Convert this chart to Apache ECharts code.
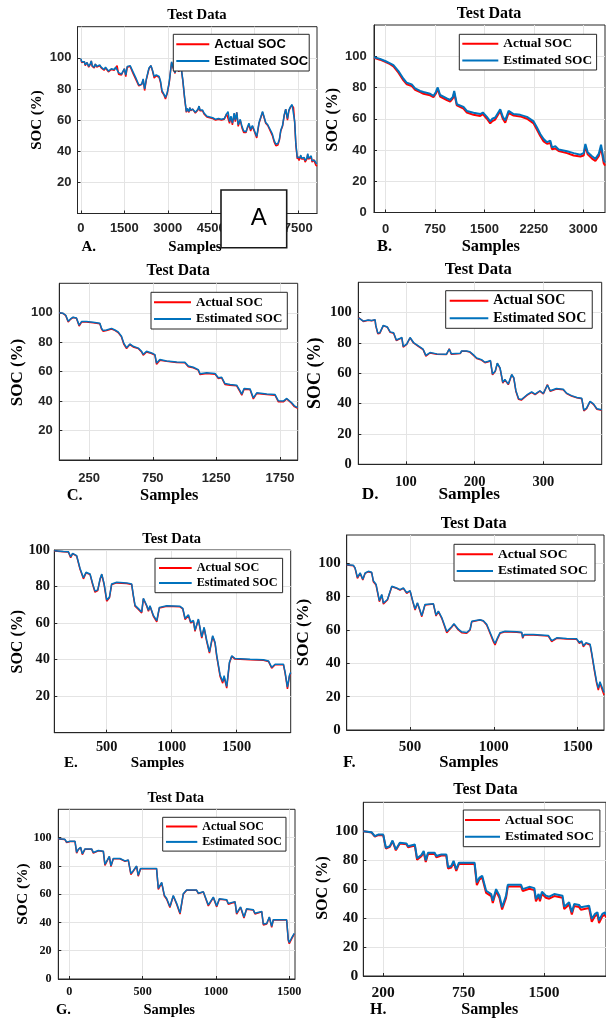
<!DOCTYPE html>
<html><head><meta charset="utf-8">
<script src="https://cdn.jsdelivr.net/npm/echarts@6/dist/echarts.min.js"></script>
<style>html,body{margin:0;padding:0;background:#fff;}#c{width:606px;height:1018px;}</style>
</head><body><div id="c"></div>
<script>
// ---------------- DATA ----------------
const seriesNames = ['Actual SOC', 'Estimated SOC'];

// Panel A
const samplesA = [0,30,60,90,120,150,180,210,240,270,
300,330,360,390,420,460,500,550,600,650,
700,750,800,850,900,950,1000,1050,1100,1150,
1200,1250,1300,1400,1500,1550,1600,1700,1800,1900,
2000,2100,2150,2200,2260,2350,2420,2480,2530,2600,
2700,2750,2800,2870,2920,2980,3050,3130,3180,3250,
3300,3380,3450,3520,3580,3640,3670,3700,3730,3760,
3790,3820,3860,3900,3950,4000,4040,4080,4110,4150,
4200,4250,4300,4350,4400,4450,4550,4650,4750,4850,
4950,5030,5080,5130,5180,5230,5290,5330,5380,5430,
5500,5560,5620,5700,5750,5800,5860,5920,5980,6070,
6150,6270,6380,6450,6500,6560,6610,6670,6730,6800,
6850,6900,6960,7020,7070,7130,7180,7230,7290,7340,
7380,7420,7470,7500,7530,7560,7590,7620,7650,7680,
7710,7740,7770,7800,7830,7860,7890,7920,7950,7980,
8010,8040,8070,8110,8150];
const actualA = [99,97,96,98,97.5,95,94.5,97,96.5,94,
94.5,96,98,94.5,95,93.5,96,94,94,95,
93.5,92.5,92,93.5,92.5,91,91,92.5,91.5,92,
93.5,95,89.5,89,93,88,94,94.5,90,86,
82,83,86,79,86,93,95,91,87,88.5,
87.5,84,78,76,73.5,77,84,97,94,90,
97,91,95,85,74,65,67,66,65,68,
66,65,67,66,64.5,65,66.5,69,66,65,
66,64,63.5,62,63,61.5,61,60,60.5,60,
60.5,64,65,58,62,57,64,59,65,56,
60,55,52,52,55,57,53,56,57,48.5,
58,65,58,56.5,56,52,50,46,43.5,44,
47,53,56,63,67,60,66,68,69.5,68,
58,44,35,36.5,34,35.5,37,35,34,36,
35,33,33.5,35,38,35,34,35.5,36,33,
32,34.5,33,31,30.5];
const estimatedA = [99.5,97.5,96.5,98,97.5,95.5,95,97,96.5,94.5,
95,96.5,98,95,95.5,94,96,94.5,94.5,95.5,
94,93,92.5,94,93,91.5,91.5,93,92,92.5,
94,95,90.5,89.5,93,89,94.5,95,91,87,
82.5,83,86.5,80,86.5,93.5,95,91.5,88,89,
88,85,79,76.5,74.5,77.5,84.5,97.5,94,90.5,
97,91.5,95.5,85.5,74.5,65.5,67.5,66.5,65.5,68,
66.5,65.5,67,66.5,65,65.5,67,69,66.5,65.5,
66.5,64.5,64,62.5,63.5,62,61.5,60.5,61,60.5,
61,64,65.5,59,62.5,58,64.5,60,65,57,
60.5,56,53,52.5,55.5,58,54,56.5,57.5,49.5,
58.5,65.5,58.5,57,56.5,53,51,47,44.5,45,
47.5,53.5,56.5,63.5,67,61,66.5,68.5,70,69,
59,45,36,37,35.5,36,37.5,35.5,35,36.5,
36,34,34.5,35.5,38.5,35.5,35,36,37,34,
33.5,35,34,32.5,32];
const xTicksA = [0,1500,3000,4500,6000,7500];
const yTicksA = [20,40,60,80,100];

// Panel B
const samplesB = [-178,-86,0,66,117,193,269,320,350,395,
446,522,573,674,725,760,790,826,928,979,
1019,1040,1080,1181,1232,1333,1435,1475,1536,1587,
1620,1663,1739,1780,1815,1866,1942,2043,2145,2246,
2297,2347,2398,2449,2500,2525,2576,2626,2753,2854,
2956,3006,3032,3067,3133,3184,3235,3270,3311,3330];
const actualB = [99,97.8,96.3,95,93.5,89.5,84.5,82,81.5,81,
78.5,77,76,75,73.8,76,79,74.2,72,71,
73,76.5,68.5,66.5,64,62.5,61.8,63,60,57,
58.5,59.5,65,59.8,57.5,63.8,62,61.5,60,57,
53,49,45.5,44,44.5,40.5,41,39.3,38,36.5,
35.8,36.5,42.5,37.2,34.5,33,36,41.5,31.5,30];
const estimatedB = [99.4,98.3,96.8,95.5,94.3,90.5,85.6,83,82.5,82,
79.4,77.8,77.1,76,74.6,77,80,75.2,73,72,
74,77.8,69.3,67.6,65,63.8,63,64,61.2,58.3,
60,60.8,66,61,59,65,63,62.5,61.2,58.3,
54.4,50.2,47,45,46,41.7,42.4,40.3,39.2,38,
37,38,43.9,38.6,36,34.3,37.5,43.4,33.3,32];
const xTicksB = [0,750,1500,2250,3000];
const yTicksB = [0,20,40,60,80,100];

// Panel C
const samplesC = [14,45,66,85,103,124,150,171,190,229,
281,334,347,360,386,426,452,478,504,523,
544,570,596,636,662,675,701,741,767,780,
806,859,938,1003,1030,1069,1108,1122,1174,1240,
1266,1292,1318,1358,1410,1437,1450,1468,1515,1541,
1568,1646,1712,1738,1777,1804,1843,1864,1890];
const actualC = [100,99.5,98,93.7,95.5,96.8,96.3,91,93.7,93.7,
93.2,92.5,89,87.4,88,89,88,86.5,83.6,78.5,
75.7,78.4,76.8,75.7,73.4,71.2,73.4,72.3,71.2,65,
67.8,67,66.2,66,63.3,62.6,61,58,58.8,58.3,
55.4,55.8,51.3,50.8,50.4,46.3,44,48.1,47.9,41.5,
45.2,44.5,44,39.5,39.5,41.4,38.4,36.2,35];
const estimatedC = [100,99.6,98.3,94.2,95.8,97,96.5,91.6,94,94,
93.5,92.8,89.5,87.9,88.3,89.4,88.3,87,84,79.2,
76.3,78.8,77.2,76,73.8,71.8,73.8,72.7,71.6,65.8,
68.2,67.3,66.5,66.3,63.8,63,61.4,58.6,59.2,58.7,
55.9,56.2,51.9,51.2,50.8,46.9,44.7,48.5,48.3,42.2,
45.6,44.9,44.4,40.2,40,41.8,38.9,36.8,35.6];
const xTicksC = [250,750,1250,1750];
const yTicksC = [20,40,60,80,100];

// Panel D
const samplesD = [31,33,38,45,50,55,56,59,62,67,
73,77,82,86,91,94,96,101,106,111,
118,125,129,135,145,159,163,166,179,181,
188,193,198,203,210,215,220,223,226,230,
233,237,241,244,249,254,257,260,264,268,
276,283,288,295,300,306,310,319,329,334,
341,349,356,359,363,368,373,378,385];
const actualD = [96.8,95.7,94.2,95,94.6,95.2,91.4,86,86.4,91.4,
90.3,87,86.4,81.6,82.7,83.4,77.3,79,83.4,80,
77.8,75.6,71.3,73.4,72.6,72.4,76.2,72.6,73,74.5,
74.5,74,72,69.8,68.7,67,67.6,68.2,59,61.1,
66.5,63.3,53.6,55.7,52.5,59,56.8,48.2,42.8,42.3,
45.4,47.5,46,48.2,46.4,52.5,48.2,49.7,49.2,46.6,
45,43.8,43.2,35.2,36.7,41.3,39.5,36.3,35.6];
const estimatedD = [96.5,95.9,94.4,95.2,94.8,95.4,91.8,86.5,86.8,91.6,
90.5,87.3,86.7,82,82.9,83.7,77.8,79.3,83.6,80.3,
78.1,75.9,71.8,73.7,72.8,72.6,76,72.9,73.2,74.7,
74.7,74.2,72.3,70.1,69,67.3,67.9,68.4,59.5,61.5,
66.7,63.6,54.1,56,52.9,59.2,57.1,48.7,43.3,42.7,
45.7,47.8,46.3,48.5,46.7,52.3,48.5,50,49.5,46.9,
45.3,44.1,43.5,35.7,37,41.5,39.8,36.6,35.9];
const xTicksD = [100,200,300];
const yTicksD = [0,20,40,60,80,100];

// Panel E
const samplesE = [97,167,205,223,238,269,295,321,341,372,
392,410,431,449,462,480,500,521,538,577,
654,692,705,718,744,769,782,808,821,833,
859,885,905,962,1064,1085,1103,1128,1146,1167,
1179,1205,1231,1249,1269,1290,1315,1333,1346,1372,
1392,1403,1423,1444,1462,1487,1603,1705,1744,1769,
1795,1859,1872,1890,1905,1915];
const actualE = [99.5,99,98.9,95.8,98,96.7,89.4,84.2,87.5,86.6,
81.1,76.9,77.8,83.9,86.6,81.1,72,73.8,81.1,82,
81.7,81.1,74.7,69.2,67.4,65.6,73.3,69.2,66.5,69.2,
63.7,60.6,68.3,69.2,68.9,67.8,61.9,64.1,60.1,61,
55.5,61.9,51.8,57.3,50,43.6,52.7,49,41.8,30.8,
27.1,30.4,24.4,38.1,41.8,40.3,39.9,39.6,39,35.3,
37.2,37.2,32.6,24,30.8,32.6];
const estimatedE = [99.6,99.2,99.1,96.3,98.2,96.9,89.9,84.8,87.8,86.9,
81.6,77.5,78.2,84.2,86.8,81.6,72.7,74.2,81.4,82.3,
82,81.4,75.2,69.7,67.9,66.1,73.6,69.6,67,69.5,
64.2,61.3,68.6,69.5,69.2,68.1,62.5,64.5,60.6,61.4,
56.1,62.2,52.4,57.7,50.6,44.3,53.1,49.5,42.5,31.6,
28,31.2,25.3,38.6,42.1,40.6,40.2,39.9,39.3,35.8,
37.5,37.5,33.2,24.9,31.3,33];
const xTicksE = [500,1000,1500];
const yTicksE = [20,40,60,80,100];

// Panel F
const samplesF = [122,162,172,186,202,218,232,251,271,281,
297,317,331,341,365,391,420,440,460,480,
500,516,530,544,556,570,589,599,639,655,
669,689,703,719,748,762,788,808,838,858,
868,917,937,957,977,997,1007,1023,1037,1067,
1136,1166,1172,1180,1236,1325,1345,1359,1375,1434,
1494,1510,1524,1534,1550,1574,1583,1599,1613,1623,
1633,1643,1657];
const actualF = [99,98.6,97,91,94,90,94,95,94.4,89,
87,77,81,75.6,78,86,85,84,85,82,
83.4,77,72,76,72.4,68,75,76,75.6,68.4,
71,67,63,58.4,61.6,63.4,60,58.4,58,60,
65,66,65.4,63,58,53,51,55,58,59,
58.6,58.4,55,57,57,56.4,53,54,55,54.6,
54.4,52,53,50,52,51,46,36,28,24,
28,27,21];
const estimatedF = [99.1,98.8,97.3,91.6,94.3,90.5,94.2,95.2,94.6,89.5,
87.5,77.6,81.3,76.2,78.3,86.2,85.2,84.2,85.2,82.4,
83.6,77.5,72.6,76.3,72.9,68.6,75.3,76.2,75.8,69,
71.3,67.5,63.6,59.1,62,63.8,60.5,58.9,58.5,60.3,
65.2,66.2,65.6,63.4,58.6,53.8,52,55.6,58.4,59.3,
58.9,58.7,55.6,57.3,57.3,56.7,53.6,54.4,55.3,54.9,
54.7,52.5,53.4,50.6,52.4,51.5,46.8,37,29,25.2,
29,28,22.5];
const xTicksF = [500,1000,1500];
const yTicksF = [0,20,40,60,80,100];

// Panel G
const samplesG = [-75,-30,-18,5,39,50,61,77,89,107,
152,164,198,232,243,259,273,284,300,345,
380,402,420,436,459,470,486,527,595,607,
630,648,664,686,709,732,755,777,800,868,
880,914,948,982,1005,1023,1073,1084,1130,1141,
1168,1191,1209,1255,1266,1312,1323,1346,1364,1380,
1391,1482,1493,1500,1516,1534];
const actualG = [99,98.6,96.5,97.2,97.2,89,91.4,93,88,91.8,
91.8,89,90.7,90.2,80.4,83.7,86.5,79.5,85,85,
83.2,84,73.9,76.2,79.7,72.7,78,78,78,63.4,
68,58.7,56.4,50.6,58.7,52.9,45.9,59.9,62.7,62.7,
60.4,61.5,51.7,57.6,51,56.4,55.9,52.9,54.5,45.9,
50.6,43.1,49.4,48.7,45.9,47.6,38.2,38.9,43.6,36.6,
41.7,41.7,27.3,24.9,28.4,31.9];
const estimatedG = [99.1,98.8,96.8,97.4,97.4,89.6,91.7,93.2,88.5,92,
92,89.5,90.9,90.4,81,84,86.7,80.1,85.2,85.2,
83.5,84.2,74.5,76.6,79.9,73.3,78.2,78.2,78.2,64.1,
68.3,59.3,56.9,51.3,59,53.5,46.7,60.2,62.9,62.9,
60.7,61.7,52.4,57.9,51.7,56.7,56.1,53.4,54.7,46.6,
51,43.8,49.7,48.9,46.5,47.8,38.9,39.3,43.9,37.3,
41.9,41.9,28.1,25.8,29,32.3];
const xTicksG = [0,500,1000,1500];
const yTicksG = [0,20,40,60,80,100];

// Panel H (tick marks are evenly spaced but labelled 200 / 750 / 1500)
const samplesH = [64,141,172,203,250,275,312,337,368,405,
467,482,545,566,606,628,647,668,730,746,
793,839,855,886,907,932,957,1025,1103,1124,
1149,1174,1211,1258,1273,1304,1335,1360,1372,1397,
1413,1537,1552,1614,1661,1676,1701,1713,1732,1769,
1800,1847,1924,1940,1986,2011,2033,2079,2095,2172,
2197,2228,2250,2265,2296,2321,2330];
const actualH = [100,99.1,96.3,97.4,97.3,88,89.2,93.1,86.8,91.5,
91,89,90.2,80.3,82.8,85.5,78.8,84.3,84.5,82,
83.2,83.2,74.3,75,78.6,72.6,77.4,77.4,77.3,62.8,
66.8,68,57.4,55.2,50.4,58.5,54,46,45.2,54,
61.8,61.8,58.7,60.3,59.3,51.6,55.2,51.7,56.8,54.1,
53.4,55.2,54,46.2,49.4,42.5,48.3,47.6,45.8,47,
37.5,41.4,42.5,36.6,41.2,42.5,40.5];
const estimatedH = [100,99.3,96.6,97.7,97.7,88.6,89.7,93.6,87.4,92,
91.6,89.7,90.9,81.3,83.6,86.3,79.9,85.2,85.2,82.9,
84,84,75.3,76,79.5,73.7,78.3,78.3,78.3,64.6,
68,69.2,58.9,56.6,52,60,55.5,47.5,46.8,55.5,
63,63,60,61.6,60.7,53.2,56.6,53.2,58.2,55.5,
54.8,56.6,55.5,47.9,50.9,44.1,49.8,49.1,47.5,48.6,
39.5,42.9,44,38.4,42.9,44,42];
const xTicksH = [250,1000,1750];
const xTickLabelsH = ['200','750','1500'];
const yTicksH = [0,20,40,60,80,100];

// ---------------- LAYOUT / STYLE ----------------
const SANS = '"Liberation Sans", Arial, sans-serif';
const SERIF = '"Liberation Serif", "Times New Roman", serif';
const panels = [
 {id:'A', x:samplesA, a:actualA, e:estimatedA, xt:xTicksA, yt:yTicksA, xr:[-117,8150], ymax:120,
  g:[77.5,26.7,239.5,186.8], tf:[SANS,13], xm:8, ym:6, lw:1.5,
  title:[197,15.7,14.7], yn:[37.5,120,15], xn:[195,247,15], let:[81.5,247,15],
  lg:{l:173.3,t:34.3,iw:33,pl:3,pr:1,p:2.15,lh:15.7,ff:SANS,fs:13}},
 {id:'B', x:samplesB, a:actualB, e:estimatedB, xt:xTicksB, yt:yTicksB, xr:[-178,3330], ymax:120,
  g:[374,25,231,187.5], tf:[SANS,13], xm:10, ym:7.3, lw:2,
  title:[489,14,16], yn:[332.5,119.7,16], xn:[490.8,247,16.4], let:[377,247,16.4],
  lg:{l:459.3,t:34.3,iw:36,pl:3,pr:4.4,p:1.65,lh:15.7,ff:SERIF,fs:13.4}},
 {id:'C', x:samplesC, a:actualC, e:estimatedC, xt:xTicksC, yt:yTicksC, xr:[15,1890], ymax:120,
  g:[59.3,283.3,238.4,176.7], tf:[SANS,13], xm:12, ym:6.6, lw:1.5,
  title:[178.2,270.7,15.7], yn:[17.3,372.5,17], xn:[169.2,495.5,16.4], let:[66.7,495.5,16.4],
  lg:{l:151,t:292.3,iw:37,pl:3,pr:5,p:2.15,lh:15.7,ff:SERIF,fs:13}},
 {id:'D', x:samplesD, a:actualD, e:estimatedD, xt:xTicksD, yt:yTicksD, xr:[30.6,385], ymax:120,
  g:[358.3,282.3,243.4,182], tf:[SERIF,14.5], xm:10, ym:6.6, lw:1.5,
  title:[478.3,270,16.6], yn:[315,373.3,18], xn:[469.2,495,17.3], let:[361.7,495,17.3],
  lg:{l:445.7,t:290.7,iw:38.6,pl:4,pr:6,p:2,lh:16.3,ff:SERIF,fs:14}},
 {id:'E', x:samplesE, a:actualE, e:estimatedE, xt:xTicksE, yt:yTicksE, xr:[97,1915], ymax:100,
  g:[54.3,550,236.4,182.7], tf:[SERIF,14.4], xm:7.5, ym:4.3, lw:1.5,
  title:[171.7,539,14.5], yn:[18.3,641.7,16], xn:[157.5,763.5,15], let:[64,763.5,15],
  lg:{l:155,t:558.3,iw:32.7,pl:4,pr:5,p:2.7,lh:14,ff:SERIF,fs:12.2}},
 {id:'F', x:samplesF, a:actualF, e:estimatedF, xt:xTicksF, yt:yTicksF, xr:[122,1657], ymax:117,
  g:[346.7,535,257.3,195], tf:[SERIF,15], xm:10, ym:6, lw:1.5,
  title:[473.7,523.3,16.3], yn:[303.5,632.5,17], xn:[468.8,762.5,16.6], let:[343,762.5,16.6],
  lg:{l:454,t:544.3,iw:36.3,pl:2.7,pr:7.4,p:2.15,lh:15.7,ff:SERIF,fs:13.5}},
 {id:'G', x:samplesG, a:actualG, e:estimatedG, xt:xTicksG, yt:yTicksG, xr:[-75,1539], ymax:120,
  g:[58.3,809.3,236.7,169.7], tf:[SERIF,12.2], xm:7, ym:6.6, lw:1.5,
  title:[175.8,798.3,14], yn:[23,894,15.5], xn:[169.2,1010,14.5], let:[56,1010,14.5],
  lg:{l:162.7,t:817.3,iw:31.3,pl:3.3,pr:4,p:2,lh:14.4,ff:SERIF,fs:12}},
 {id:'H', x:samplesH, a:actualH, e:estimatedH, xt:xTicksH, xl:xTickLabelsH, yt:yTicksH, xr:[64,2330], ymax:120,
  g:[363.3,802.3,243.7,173.7], tf:[SERIF,15.5], xm:8.5, ym:5, lw:2,
  title:[485.5,790,15.9], yn:[323.3,888,16], xn:[489.7,1010,16], let:[370,1010,16],
  lg:{l:463.3,t:810,iw:35,pl:1.7,pr:6,p:2.25,lh:15.6,ff:SERIF,fs:13.4}}
];

const RED = '#ff0000', BLUE = '#0072bd', AX = '#262626', GRIDC = '#e4e4e4';
const grids = [], xAxes = [], yAxes = [], series = [], legends = [], elements = [];

function txt(x, y, text, font, align, rot) {
  return {type:'text', x:x, y:y, rotation:rot||0, z:50,
    style:{text:text, font:font, fill:'#000', align:align||'center', verticalAlign:'middle',
           textAlign:align||'center', textVerticalAlign:'middle'}};
}

panels.forEach((p, i) => {
  grids.push({left:p.g[0], top:p.g[1], width:p.g[2], height:p.g[3], show:true,
    borderColor:AX, borderWidth:1, backgroundColor:'#fff', containLabel:false});
  const labFont = {fontFamily:p.tf[0], fontSize:p.tf[1], fontWeight:'bold', color:p.tf[0]===SANS?AX:'#111'};
  const xt = p.xt, xl = p.xl;
  xAxes.push({gridIndex:i, type:'value', min:p.xr[0], max:p.xr[1],
    axisLine:{show:true, onZero:false, lineStyle:{color:AX, width:1}},
    axisTick:{show:true, inside:true, length:3, customValues:xt, lineStyle:{color:AX}},
    axisLabel:Object.assign({customValues:xt, margin:p.xm,
      formatter:(v)=>{const k = xt.indexOf(v); return xl ? (k>=0?xl[k]:'') : String(v);}}, labFont),
    splitLine:{show:true, lineStyle:{color:GRIDC, width:1}}});
  yAxes.push({gridIndex:i, type:'value', min:0, max:p.ymax,
    axisLine:{show:true, onZero:false, lineStyle:{color:AX, width:1}},
    axisTick:{show:true, inside:true, length:3, customValues:p.yt, lineStyle:{color:AX}},
    axisLabel:Object.assign({customValues:p.yt, margin:p.ym, formatter:(v)=>String(v)}, labFont),
    splitLine:{show:true, lineStyle:{color:GRIDC, width:1}}});
  series.push({type:'line', name:seriesNames[0], xAxisIndex:i, yAxisIndex:i, symbol:'none', z:3,
    data:p.x.map((v,k)=>[v, p.a[k]]), lineStyle:{color:RED, width:p.lw}, itemStyle:{color:RED}, clip:true});
  series.push({type:'line', name:seriesNames[1], xAxisIndex:i, yAxisIndex:i, symbol:'none', z:4,
    data:p.x.map((v,k)=>[v, p.e[k]]), lineStyle:{color:BLUE, width:p.lw}, itemStyle:{color:BLUE}, clip:true});
  const L = p.lg;
  legends.push({left:L.l, top:L.t, orient:'vertical', icon:'rect', itemWidth:L.iw, itemHeight:2, itemGap:1,
    padding:[L.p, L.pr, L.p, L.pl], backgroundColor:'#fff', borderColor:AX, borderWidth:1, borderRadius:0,
    selectedMode:false, z:10, data:seriesNames,
    textStyle:{fontFamily:L.ff, fontSize:L.fs, fontWeight:'bold', color:'#000', lineHeight:L.lh}});
  elements.push(txt(p.title[0], p.title[1], 'Test Data', 'bold '+p.title[2]+'px '+SERIF));
  elements.push(txt(p.yn[0], p.yn[1], 'SOC (%)', 'bold '+p.yn[2]+'px '+SERIF, 'center', Math.PI/2));
  elements.push(txt(p.xn[0], p.xn[1], 'Samples', 'bold '+p.xn[2]+'px '+SERIF));
  elements.push(txt(p.let[0], p.let[1], p.id+'.', 'bold '+p.let[2]+'px '+SERIF, 'left'));
});

// overlay box with letter "A" on the first panel
elements.push({type:'rect', z:60, shape:{x:221, y:190, width:65.7, height:57.7},
  style:{fill:'#fff', stroke:'#1a1a1a', lineWidth:1.6}});
elements.push(Object.assign(txt(258.7, 218.8, 'A', '24px '+SANS), {z:61}));

const chart = echarts.init(document.getElementById('c'), null, {renderer:'canvas'});
chart.setOption({animation:false, backgroundColor:'#fff',
  grid:grids, xAxis:xAxes, yAxis:yAxes, series:series, legend:legends,
  graphic:{elements:elements}});
</script></body></html>
